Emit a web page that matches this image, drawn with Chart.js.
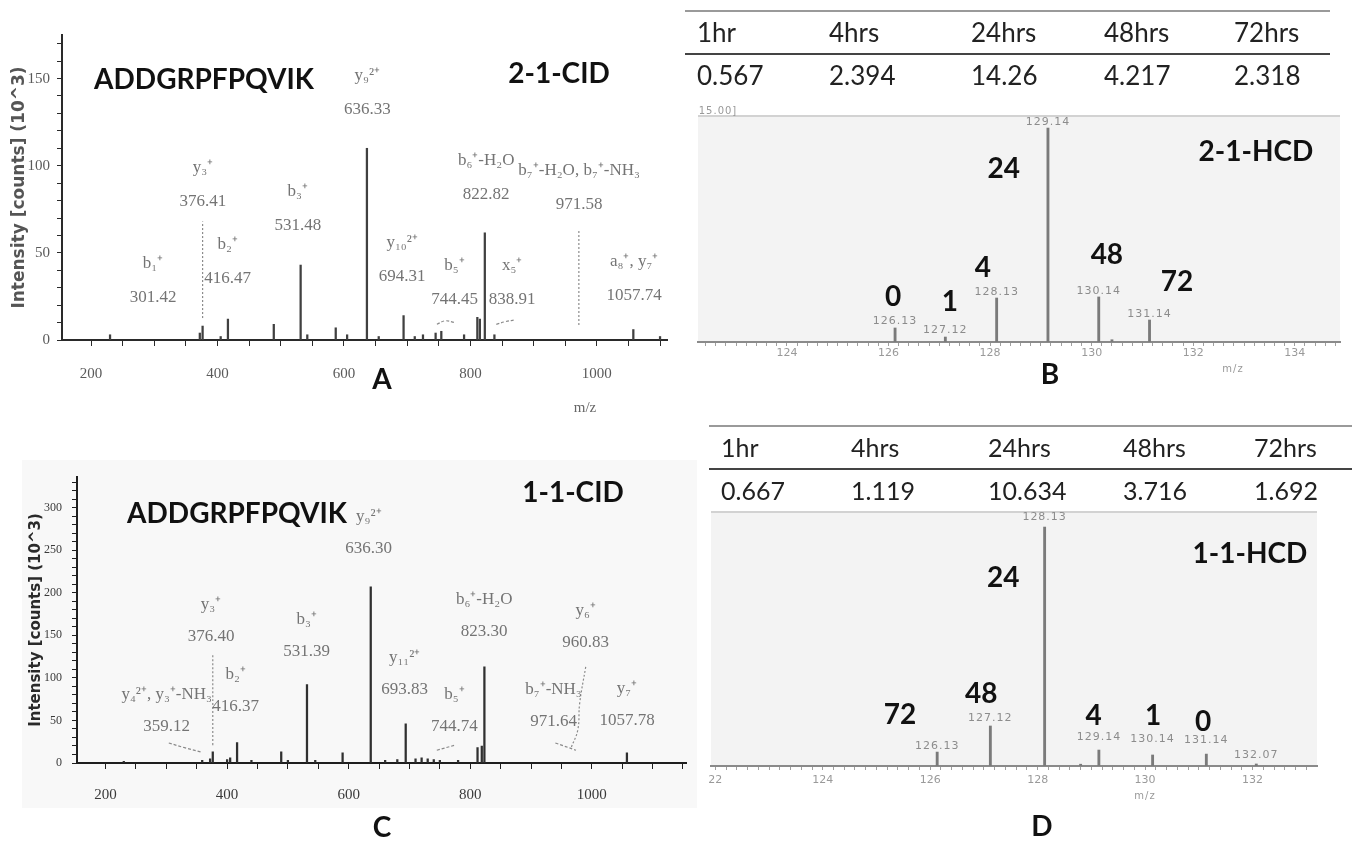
<!DOCTYPE html>
<html>
<head>
<meta charset="utf-8">
<script src="https://cdn.jsdelivr.net/npm/chart.js@4.4.0/dist/chart.umd.min.js"></script>
<style>
  body { margin: 0; background: #fff; width: 1352px; height: 842px; position: relative; overflow: hidden; font-family: Lato, sans-serif; }
  canvas { position: absolute; }
  .abs { position: absolute; white-space: nowrap; transform: translate(-50%, -50%); }
  .big { font: bold 28px Lato; color: #111; }
  .small { font: 10px "DejaVu Sans"; color: #999; letter-spacing: 1px; }
  .mz { font: 15px "Liberation Serif"; color: #666; }
  table.tbl { position: absolute; border-collapse: collapse; table-layout: fixed; font: 26px Lato; color: #222; }
  table.tbl td { padding: 0 0 0 12px; height: 41px; line-height: 41px; white-space: nowrap; }
  table.tbl tr.head td { border-top: 2px solid #9a9a9a; border-bottom: 2px solid #444; }
  #bgC { position: absolute; left: 22px; top: 460px; width: 675px; height: 348px; background: #f8f8f8; }
</style>
</head>
<body>
<div id="bgC"></div>
<canvas id="cidA" width="680" height="420" style="left:0;top:0"></canvas>
<canvas id="cidC" width="700" height="422" style="left:0;top:420px"></canvas>
<canvas id="hcdB" width="682" height="300" style="left:670px;top:88px"></canvas>
<canvas id="hcdD" width="682" height="342" style="left:670px;top:500px"></canvas>

<table class="tbl" id="tblB" style="left:685px;top:10px;width:645px"></table>
<table class="tbl" id="tblD" style="left:709px;top:425px;width:643px;font-size:25px"></table>

<div class="abs big" style="left:204px;top:78px">ADDGRPFPQVIK</div>
<div class="abs big" style="left:559px;top:72px">2-1-CID</div>
<div class="abs big" style="left:382px;top:378px">A</div>
<div class="abs mz" style="left:585px;top:407px">m/z</div>

<div class="abs big" style="left:237px;top:512px">ADDGRPFPQVIK</div>
<div class="abs big" style="left:573px;top:491px">1-1-CID</div>
<div class="abs big" style="left:382px;top:826px">C</div>

<div class="abs big" style="left:1256px;top:150px">2-1-HCD</div>
<div class="abs big" style="left:1050px;top:373px">B</div>
<div class="abs small" style="left:718px;top:110px">15.00]</div>
<div class="abs small" style="left:1233px;top:368px">m/z</div>

<div class="abs big" style="left:1250px;top:552px">1-1-HCD</div>
<div class="abs big" style="left:1042px;top:825px">D</div>
<div class="abs small" style="left:1145px;top:795px">m/z</div>

<script>
// ---------- data ----------
// A: 2-1-CID spectrum (m/z, intensity x10^3)
const cidA_mz  = [230, 372, 376.41, 405, 416.47, 489, 531.48, 542, 587, 605, 636.33, 655, 694.31, 712, 725, 745, 754, 790, 811, 815, 822.82, 838, 1057.74, 1100];
const cidA_int = [3, 4, 8, 2, 12, 9, 43, 3, 7, 3, 110, 2, 14, 2, 3, 4, 5, 3, 13, 12, 61.5, 3, 6, 2];
const cidA_ions = ['b₁⁺', 'y₃⁺', 'b₂⁺', 'b₃⁺', 'y₉²⁺', 'y₁₀²⁺', 'b₅⁺', 'b₆⁺-H₂O', 'x₅⁺', 'b₇⁺-H₂O, b₇⁺-NH₃', 'a₈⁺, y₇⁺'];
const cidA_mass = ['301.42', '376.41', '416.47', '531.48', '636.33', '694.31', '744.45', '822.82', '838.91', '971.58', '1057.74'];
const cidA_labelMz  = [298, 377, 416, 527, 637, 692, 775, 825, 866, 972, 1059];
const cidA_labelInt = [44, 99, 55, 85, 152, 56, 42.5, 103, 43, 97, 45];
const cidA_dotted = [[[376.41, 12.6], [376.41, 68]], [[971.58, 8.6], [971.58, 63]]];
const cidA_dashed = [[[747, 9], [760, 11], [775, 10]], [[841, 9], [855, 10.5], [870, 11.5]]];

// C: 1-1-CID spectrum
const cidC_mz  = [230, 359, 372, 376.40, 400, 405, 416.37, 440, 489, 500, 531.39, 545, 590, 636.30, 660, 680, 693.83, 710, 720, 730, 740, 750, 780, 812, 819, 823.30, 1057.78];
const cidC_int = [2, 3, 5, 13, 4, 6, 24, 3, 13, 3, 92, 3, 12, 207, 3, 4, 46, 5, 6, 5, 4, 3, 3, 18, 20, 113, 12];
const cidC_ions = ['y₄²⁺, y₃⁺-NH₃', 'y₃⁺', 'b₂⁺', 'b₃⁺', 'y₉²⁺', 'y₁₁²⁺', 'b₅⁺', 'b₆⁺-H₂O', 'y₆⁺', 'b₇⁺-NH₃', 'y₇⁺'];
const cidC_mass = ['359.12', '376.40', '416.37', '531.39', '636.30', '693.83', '744.74', '823.30', '960.83', '971.64', '1057.78'];
const cidC_labelMz  = [300.6, 373.6, 414, 531, 633, 692, 774, 823, 990, 937, 1058];
const cidC_labelInt = [80, 186, 103.5, 168, 289, 123.5, 80, 192, 179, 86, 88];
const cidC_dotted = [[[376.40, 21], [376.40, 127]], [[990, 113], [980, 70], [977, 39], [966, 18]]];
const cidC_dashed = [[[304, 23.5], [330, 18], [357, 13]], [[745, 15], [775, 21]], [[940, 23.5], [974, 15]]];

// B: 2-1-HCD reporter region
const hcdB_mz  = [126.13, 127.12, 128.13, 129.14, 130.14, 130.4, 131.14];
const hcdB_int = [0.93, 0.33, 2.92, 14.2, 2.99, 0.15, 1.46];
const hcdB_labelMz  = [126.13, 127.12, 128.13, 129.14, 130.14, 131.14];
const hcdB_labelInt = [1.39, 0.80, 3.32, 14.6, 3.38, 1.86];
const hcdB_times = ['0', '1', '4', '24', '48', '72'];
const hcdB_timeMz  = [126.09, 127.21, 127.86, 128.27, 130.3, 131.68];
const hcdB_timeInt = [2.99, 2.65, 4.91, 11.48, 5.77, 3.98];

// D: 1-1-HCD reporter region
const hcdD_mz  = [126.13, 127.12, 128.13, 128.8, 129.14, 130.14, 131.14, 132.07];
const hcdD_int = [0.62, 1.78, 10.63, 0.08, 0.71, 0.49, 0.53, 0.09];
const hcdD_labelMz  = [126.13, 127.12, 128.13, 129.14, 130.14, 131.14, 132.07];
const hcdD_labelInt = [0.89, 2.14, 11.08, 1.29, 1.2, 1.16, 0.49];
const hcdD_times = ['72', '48', '24', '4', '1', '0'];
const hcdD_timeMz  = [125.44, 126.95, 127.36, 129.04, 130.15, 131.08];
const hcdD_timeInt = [2.27, 3.2, 8.36, 2.22, 2.22, 1.96];

// tables
const hours = ['1hr', '4hrs', '24hrs', '48hrs', '72hrs'];
const ratioB = [0.567, 2.394, 14.26, 4.217, 2.318];
const ratioD = [0.667, 1.119, 10.634, 3.716, 1.692];

// ---------- helpers ----------
const toPts = (xs, ys) => xs.map((x, i) => ({ x: x, y: ys[i] }));

function leader(pts, dash, curve) {
    return {
        type: 'line',
        data: pts.map(p => ({ x: p[0], y: p[1] })),
        borderColor: '#8a8a8a',
        borderWidth: 1.2,
        borderDash: dash,
        pointRadius: 0,
        tension: curve ? 0.4 : 0
    };
}

function ionLabels(ions, masses, xs, ys, gap) {
    return {
        id: 'ionLabels',
        afterDatasetsDraw(chart) {
            const { ctx, scales: { x, y } } = chart;
            ctx.save();
            ctx.font = '17px "Liberation Serif"';
            ctx.fillStyle = '#747474';
            ctx.textAlign = 'center';
            ctx.textBaseline = 'middle';
            ions.forEach((t, i) => {
                const px = x.getPixelForValue(xs[i]);
                const py = y.getPixelForValue(ys[i]);
                ctx.fillText(t, px, py);
                ctx.fillText(masses[i], px, py + gap);
            });
            ctx.restore();
        }
    };
}

function hcdLabels(lx, ly, times, tx, ty) {
    return {
        id: 'hcdLabels',
        beforeDraw(chart) {
            const { ctx, chartArea: a } = chart;
            ctx.save();
            ctx.fillStyle = '#f3f3f3';
            ctx.fillRect(a.left, a.top, a.right - a.left, a.bottom - a.top);
            ctx.strokeStyle = '#d2d2d2';
            ctx.lineWidth = 2;
            ctx.beginPath();
            ctx.moveTo(a.left, a.top);
            ctx.lineTo(a.right, a.top);
            ctx.stroke();
            ctx.restore();
        },
        afterDatasetsDraw(chart) {
            const { ctx, scales: { x, y } } = chart;
            ctx.save();
            ctx.textAlign = 'center';
            ctx.textBaseline = 'middle';
            ctx.font = '11px "DejaVu Sans"';
            ctx.letterSpacing = '1px';
            ctx.fillStyle = '#8c8c8c';
            lx.forEach((m, i) => {
                ctx.fillText(m.toFixed(2), x.getPixelForValue(m), y.getPixelForValue(ly[i]));
            });
            ctx.letterSpacing = '0px';
            ctx.font = 'bold 28px Lato';
            ctx.fillStyle = '#111';
            times.forEach((t, i) => {
                ctx.fillText(t, x.getPixelForValue(tx[i]), y.getPixelForValue(ty[i]));
            });
            ctx.restore();
        }
    };
}

function cidChart(id, peaks, lines, xMin, xMax, yMax, look, plugin) {
    return new Chart(document.getElementById(id), {
        type: 'bar',
        data: {
            datasets: [{
                type: 'bar',
                data: peaks,
                backgroundColor: look.bar,
                barThickness: 1.6,
                grouped: false
            }].concat(lines)
        },
        options: {
            responsive: false,
            animation: false,
            devicePixelRatio: 1,
            events: [],
            layout: { padding: look.pad },
            plugins: { legend: { display: false }, tooltip: { enabled: false } },
            scales: {
                x: {
                    type: 'linear', min: xMin, max: xMax, offset: false,
                    border: { color: look.axis, width: 2 },
                    grid: { drawOnChartArea: false, tickLength: 6, color: look.axis, offset: false },
                    ticks: {
                        stepSize: 50, includeBounds: false, autoSkip: false, maxRotation: 0,
                        padding: look.xPad, color: look.tick,
                        font: { family: 'Liberation Serif', size: 15 },
                        callback: v => (v % 200 === 0 ? v : '')
                    },
                    afterFit: s => { s.height = look.xH; }
                },
                y: {
                    min: 0, max: yMax,
                    border: { color: look.axis, width: 2 },
                    grid: { drawOnChartArea: false, tickLength: 5, color: look.axis },
                    ticks: {
                        stepSize: 10, includeBounds: false, autoSkip: false,
                        padding: look.yPad, color: look.tick,
                        font: { family: 'Liberation Serif', size: look.yFont },
                        callback: v => (v % 50 === 0 ? v : '')
                    },
                    title: {
                        display: true, text: 'Intensity [counts] (10^3)', color: look.title,
                        font: { family: 'DejaVu Sans', size: look.titleFont, weight: 'bold' },
                        padding: { top: look.titlePad, bottom: 0 }
                    },
                    afterFit: s => { s.width = look.yW; }
                }
            }
        },
        plugins: [plugin]
    });
}

function hcdChart(id, peaks, xMin, xMax, yMax, pad, xH, xPad, label122, plugin) {
    return new Chart(document.getElementById(id), {
        type: 'bar',
        data: {
            datasets: [{ data: peaks, backgroundColor: '#7a7a7a', barThickness: 2.2, grouped: false }]
        },
        options: {
            responsive: false,
            animation: false,
            devicePixelRatio: 1,
            events: [],
            layout: { padding: pad },
            plugins: { legend: { display: false }, tooltip: { enabled: false } },
            scales: {
                x: {
                    type: 'linear', min: xMin, max: xMax, offset: false,
                    border: { color: '#8a8a8a', width: 2 },
                    grid: { drawOnChartArea: false, tickLength: 4, color: '#a0a0a0', offset: false },
                    ticks: {
                        stepSize: 0.2, includeBounds: false, autoSkip: false, maxRotation: 0,
                        padding: xPad, color: '#9a9a9a',
                        font: { family: 'DejaVu Sans', size: 11 },
                        callback: v => {
                            const r = Math.round(v);
                            if (Math.abs(v - r) > 1e-6 || r % 2 !== 0) return '';
                            // leading digit of 122 is cut off in the source figure
                            return r === 122 ? label122 : String(r);
                        }
                    },
                    afterFit: s => { s.height = xH; }
                },
                y: { display: false, min: 0, max: yMax }
            }
        },
        plugins: [plugin]
    });
}

function buildTable(id, head, vals, colW) {
    let html = '<colgroup>' + colW.map(w => `<col style="width:${w}px">`).join('') + '</colgroup>';
    html += '<tr class="head">' + head.map(h => `<td>${h}</td>`).join('') + '</tr>';
    html += '<tr>' + vals.map(v => `<td>${v}</td>`).join('') + '</tr>';
    document.getElementById(id).innerHTML = html;
}

// ---------- panels ----------
cidChart('cidA', toPts(cidA_mz, cidA_int),
    cidA_dotted.map(l => leader(l, [2, 2], false)).concat(cidA_dashed.map(l => leader(l, [3, 2], true))),
    154, 1111, 175,
    { bar: '#404040', axis: '#2a2a2a', tick: '#5a5a5a', title: '#555', pad: { left: 0, top: 35, right: 13, bottom: 0 },
      xH: 80, yW: 62, xPad: 19, yPad: 7, yFont: 15, titleFont: 17, titlePad: 9 },
    ionLabels(cidA_ions, cidA_mass, cidA_labelMz, cidA_labelInt, 34));

cidChart('cidC', toPts(cidC_mz, cidC_int),
    cidC_dotted.map(l => leader(l, [2, 2], true)).concat(cidC_dashed.map(l => leader(l, [3, 2], true))),
    153, 1156, 336,
    { bar: '#303030', axis: '#1e1e1e', tick: '#3a3a3a', title: '#2a2a2a', pad: { left: 0, top: 57, right: 5, bottom: 0 },
      xH: 79, yW: 77, xPad: 17, yPad: 10, yFont: 12, titleFont: 15, titlePad: 27 },
    ionLabels(cidC_ions, cidC_mass, cidC_labelMz, cidC_labelInt, 32));

hcdChart('hcdB', toPts(hcdB_mz, hcdB_int), 122.25, 134.89, 15,
    { left: 28, top: 28, right: 12, bottom: 0 }, 46, 1, '122',
    hcdLabels(hcdB_labelMz, hcdB_labelInt, hcdB_times, hcdB_timeMz, hcdB_timeInt));

hcdChart('hcdD', toPts(hcdD_mz, hcdD_int), 121.92, 133.2, 11.3,
    { left: 41, top: 12, right: 35, bottom: 0 }, 76, 4, '22',
    hcdLabels(hcdD_labelMz, hcdD_labelInt, hcdD_times, hcdD_timeMz, hcdD_timeInt));

buildTable('tblB', hours, ratioB, [132, 142, 133, 130, 108]);
buildTable('tblD', hours, ratioD, [130, 137, 135, 131, 110]);
</script>
</body>
</html>
